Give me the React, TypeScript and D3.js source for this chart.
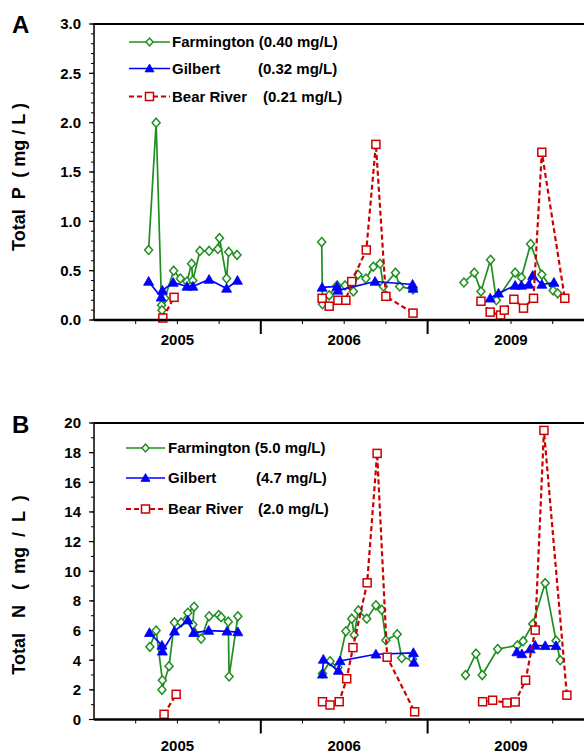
import React from 'react';
import * as d3 from 'd3';

type Pt = [number, number];

// x in axis units (each year block spans 4 units), y in mg/L
const yearLabels = ['2005', '2006', '2009'];
const yearCenters = [2, 6, 10];
const majorXTicks = [4, 8];
const minorXTicks = [1, 2, 3, 5, 6, 7, 9, 10, 11];

const siteNames = ['Farmington', 'Gilbert', 'Bear River'];
const meanP = ['(0.40 mg/L)', '(0.32 mg/L)', '(0.21 mg/L)'];
const meanN = ['(5.0 mg/L)', '(4.7 mg/L)', '(2.0 mg/L)'];

const pTicks = [0, 0.5, 1, 1.5, 2, 2.5, 3];
const pTickLabels = ['0.0', '0.5', '1.0', '1.5', '2.0', '2.5', '3.0'];
const nTicks = [0, 2, 4, 6, 8, 10, 12, 14, 16, 18, 20];

const farmingtonP: Pt[][] = [
  [[1.31, 0.71], [1.49, 2.0], [1.62, 0.15], [1.63, 0.10], [1.70, 0.22], [1.91, 0.50], [2.07, 0.42], [2.23, 0.39],
   [2.34, 0.57], [2.37, 0.40], [2.54, 0.70], [2.76, 0.70], [2.97, 0.72], [3.01, 0.83], [3.18, 0.42], [3.23, 0.69], [3.43, 0.66]],
  [[5.46, 0.79], [5.48, 0.16], [5.64, 0.25], [5.83, 0.35], [6.02, 0.35], [6.22, 0.29], [6.33, 0.46], [6.52, 0.42],
   [6.70, 0.54], [6.86, 0.57], [6.94, 0.34], [7.23, 0.48], [7.33, 0.34], [7.65, 0.31]],
  [[8.87, 0.38], [9.12, 0.48], [9.28, 0.29], [9.51, 0.61], [9.65, 0.20], [10.10, 0.48], [10.25, 0.43], [10.47, 0.77],
   [10.74, 0.46], [11.01, 0.30], [11.12, 0.27]],
];
const gilbertP: Pt[][] = [
  [[1.31, 0.39], [1.61, 0.23], [1.64, 0.30], [1.90, 0.38], [2.23, 0.34], [2.37, 0.34], [2.76, 0.41], [3.18, 0.32], [3.44, 0.40]],
  [[5.47, 0.33], [5.83, 0.34], [5.85, 0.30], [6.74, 0.39], [7.64, 0.36], [7.65, 0.32]],
  [[9.50, 0.22], [9.70, 0.27], [10.10, 0.35], [10.25, 0.35], [10.43, 0.36], [10.52, 0.45], [10.74, 0.36], [11.03, 0.38]],
];
const bearP: Pt[][] = [
  [[1.65, 0.02], [1.92, 0.23]],
  [[5.47, 0.22], [5.64, 0.14], [5.85, 0.20], [6.04, 0.20], [6.18, 0.39], [6.53, 0.71], [6.76, 1.78], [7.00, 0.24], [7.65, 0.07]],
  [[9.28, 0.19], [9.50, 0.08], [9.75, 0.05], [9.84, 0.10], [10.07, 0.21], [10.30, 0.12], [10.54, 0.22], [10.74, 1.70], [11.29, 0.22]],
];

const farmingtonN: Pt[][] = [
  [[1.34, 4.9], [1.49, 6.0], [1.64, 2.65], [1.63, 2.0], [1.80, 3.6], [1.93, 6.55], [2.09, 6.55], [2.25, 7.2], [2.40, 7.6],
   [2.37, 6.4], [2.57, 5.45], [2.76, 6.96], [2.99, 7.05], [3.05, 6.9], [3.22, 6.6], [3.24, 2.9], [3.45, 6.96]],
  [[5.48, 3.1], [5.66, 3.93], [5.85, 3.5], [6.04, 5.95], [6.18, 6.8], [6.24, 5.7], [6.34, 7.36], [6.54, 6.8], [6.76, 7.7],
   [6.90, 7.4], [7.00, 5.35], [7.27, 5.75], [7.38, 4.15], [7.64, 4.08]],
  [[8.91, 3.0], [9.16, 4.44], [9.31, 3.0], [9.68, 4.75], [10.15, 5.0], [10.29, 5.28], [10.52, 6.45], [10.82, 9.2],
   [11.08, 5.32], [11.18, 4.0]],
];
const gilbertN: Pt[][] = [
  [[1.33, 5.85], [1.63, 5.0], [1.64, 4.6], [1.93, 5.95], [2.25, 6.7], [2.39, 5.85], [2.75, 6.0], [3.19, 5.95], [3.45, 5.9]],
  [[5.48, 3.05], [5.50, 4.05], [5.86, 3.3], [5.90, 3.95], [6.76, 4.4], [7.66, 4.5], [7.67, 3.85]],
  [[10.14, 4.55], [10.26, 4.42], [10.46, 4.75], [10.58, 5.0], [10.82, 4.97], [11.08, 4.97]],
];
const bearN: Pt[][] = [
  [[1.68, 0.35], [1.97, 1.7]],
  [[5.48, 1.2], [5.66, 0.98], [5.88, 1.2], [6.06, 2.75], [6.21, 4.85], [6.55, 9.22], [6.79, 17.95], [7.03, 4.2], [7.69, 0.52]],
  [[9.32, 1.2], [9.56, 1.3], [9.90, 1.12], [10.10, 1.18], [10.35, 2.65], [10.58, 6.03], [10.79, 19.5], [11.34, 1.64]],
];

const GREEN = '#1f8f1f';
const BLUE = '#0000ff';
const RED = '#cc0000';
const FONT = '"Liberation Sans", Arial, Helvetica, sans-serif';

const x = d3.scaleLinear().domain([0, 12]).range([94, 594.4]);

function Diamond({ cx, cy, r = 4 }: { cx: number; cy: number; r?: number }) {
  const h = r * 1.12;
  return (
    <path d={`M${cx},${cy - h}L${cx + r},${cy}L${cx},${cy + h}L${cx - r},${cy}Z`} fill="#fff" stroke={GREEN} strokeWidth={1.5} />
  );
}
function Tri({ cx, cy, r = 5 }: { cx: number; cy: number; r?: number }) {
  return <path d={`M${cx},${cy - r}L${cx + r},${cy + r * 0.75}L${cx - r},${cy + r * 0.75}Z`} fill={BLUE} stroke={BLUE} strokeWidth={0.8} />;
}
function Sq({ cx, cy, s = 8 }: { cx: number; cy: number; s?: number }) {
  return <rect x={cx - s / 2} y={cy - s / 2} width={s} height={s} fill="#fff" stroke={RED} strokeWidth={1.5} />;
}

type PanelProps = {
  letter: string;
  top: number;
  bottom: number;
  domainMax: number;
  ticks: number[];
  tickLabels: string[];
  minorStep: number;
  title: string;
  titleY: number;
  means: string[];
  legendX: { line0: number; line1: number; text: number; mean: number[] };
  legendY: number[];
  farm: Pt[][];
  gil: Pt[][];
  bear: Pt[][];
  yearY: number;
  letterY: number;
};

function Panel(p: PanelProps) {
  const y = d3.scaleLinear().domain([0, p.domainMax]).range([p.bottom, p.top]);
  const line = d3.line<Pt>().x((d) => x(d[0])).y((d) => y(d[1]));
  const minor = d3.range(0, p.domainMax + 1e-9, p.minorStep);
  const x0 = x(0);
  return (
    <g>
      <text x={12} y={p.letterY} fontFamily={FONT} fontWeight="bold" fontSize={24}>{p.letter}</text>
      <text
        transform={`translate(25,${p.titleY}) rotate(-90)`}
        textAnchor="middle"
        fontFamily={FONT}
        fontWeight="bold"
        fontSize={18}
        style={{ whiteSpace: 'pre' }}
      >{p.title}</text>
      {/* frame */}
      <line x1={x0} x2={600} y1={p.top} y2={p.top} stroke="#000" strokeWidth={2} />
      <line x1={x0} x2={x0} y1={p.top} y2={p.bottom} stroke="#000" strokeWidth={1.5} />
      {minor.map((v) => (
        <line key={'m' + v} x1={x0 - 3} x2={x0} y1={y(v)} y2={y(v)} stroke="#000" strokeWidth={1} />
      ))}
      {p.ticks.map((v, i) => (
        <g key={'t' + v}>
          <line x1={x0 - 5} x2={x0} y1={y(v)} y2={y(v)} stroke="#000" strokeWidth={1.2} />
          <text x={81} y={y(v)} dy="0.36em" textAnchor="end" fontFamily={FONT} fontWeight="bold" fontSize={15}>{p.tickLabels[i]}</text>
        </g>
      ))}
      {/* series */}
      {p.farm.map((seg, i) => (
        <path key={'fl' + i} d={line(seg) || ''} fill="none" stroke={GREEN} strokeWidth={1.7} />
      ))}
      {p.farm.flat().map((d, i) => (
        <Diamond key={'fd' + i} cx={x(d[0])} cy={y(d[1])} />
      ))}
      {p.gil.map((seg, i) => (
        <path key={'gl' + i} d={line(seg) || ''} fill="none" stroke={BLUE} strokeWidth={1.7} />
      ))}
      {p.gil.flat().map((d, i) => (
        <Tri key={'gd' + i} cx={x(d[0])} cy={y(d[1])} />
      ))}
      {p.bear.map((seg, i) => (
        <path key={'bl' + i} d={line(seg) || ''} fill="none" stroke={RED} strokeWidth={2.2} strokeDasharray="5,3" />
      ))}
      {p.bear.flat().map((d, i) => (
        <Sq key={'bd' + i} cx={x(d[0])} cy={y(d[1])} />
      ))}
      {/* x axis */}
      <line x1={x0} x2={600} y1={p.bottom} y2={p.bottom} stroke="#000" strokeWidth={2.5} />
      {minorXTicks.map((v) => (
        <line key={'xm' + v} x1={x(v)} x2={x(v)} y1={p.bottom} y2={p.bottom + 4} stroke="#000" strokeWidth={1} />
      ))}
      {majorXTicks.map((v) => (
        <line key={'xM' + v} x1={x(v)} x2={x(v)} y1={p.bottom} y2={p.bottom + 14} stroke="#000" strokeWidth={2} />
      ))}
      {yearLabels.map((t, i) => (
        <text key={t} x={x(yearCenters[i])} y={p.yearY} textAnchor="middle" fontFamily={FONT} fontWeight="bold" fontSize={15}>{t}</text>
      ))}
      {/* legend */}
      {siteNames.map((name, i) => {
        const ly = p.legendY[i];
        const mx = (p.legendX.line0 + p.legendX.line1) / 2;
        return (
          <g key={name}>
            <line
              x1={p.legendX.line0}
              x2={p.legendX.line1}
              y1={ly}
              y2={ly}
              stroke={[GREEN, BLUE, RED][i]}
              strokeWidth={i === 2 ? 2 : 1.6}
              strokeDasharray={i === 2 ? '5,3' : undefined}
            />
            {i === 0 && <Diamond cx={mx} cy={ly} r={3.5} />}
            {i === 1 && <Tri cx={mx} cy={ly} r={4.5} />}
            {i === 2 && <Sq cx={mx} cy={ly} s={8} />}
            <text x={p.legendX.text} y={ly} dy="0.36em" fontFamily={FONT} fontWeight="bold" fontSize={15}>
              {i === 0 ? `${name} ${p.means[i]}` : name}
            </text>
            {i > 0 && (
              <text x={p.legendX.mean[i]} y={ly} dy="0.36em" fontFamily={FONT} fontWeight="bold" fontSize={15}>{p.means[i]}</text>
            )}
          </g>
        );
      })}
    </g>
  );
}

export default function App() {
  return (
    <svg width={584} height={753} style={{ position: 'absolute', left: 0, top: 0, background: '#fff' }}>
      <rect width={584} height={753} fill="#fff" />
      <Panel
        letter="A"
        letterY={33}
        top={24}
        bottom={320}
        domainMax={3}
        ticks={pTicks}
        tickLabels={pTickLabels}
        minorStep={0.1}
        title="Total  P  ( mg / L )"
        titleY={177}
        means={meanP}
        legendX={{ line0: 129, line1: 170, text: 172, mean: [0, 258, 263] }}
        legendY={[42, 68.5, 96.5]}
        farm={farmingtonP}
        gil={gilbertP}
        bear={bearP}
        yearY={345}
      />
      <Panel
        letter="B"
        letterY={433}
        top={423}
        bottom={719.5}
        domainMax={20}
        ticks={nTicks}
        tickLabels={nTicks.map(String)}
        minorStep={1}
        title="Total   N   (  mg  /  L  )"
        titleY={585}
        means={meanN}
        legendX={{ line0: 126, line1: 165, text: 168, mean: [0, 256, 258] }}
        legendY={[448, 478, 509]}
        farm={farmingtonN}
        gil={gilbertN}
        bear={bearN}
        yearY={751}
      />
    </svg>
  );
}
